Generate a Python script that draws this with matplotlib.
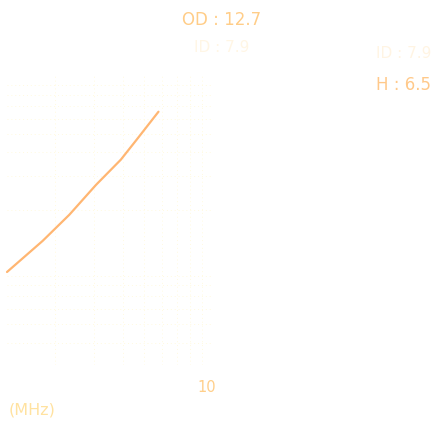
import numpy as np
import matplotlib
matplotlib.use('Agg')
import matplotlib.pyplot as plt
import matplotlib.transforms as mtransforms
from matplotlib.ticker import NullFormatter, FixedLocator

# impedance curve (faded)
freq_mhz = [1.225, 1.765, 2.32, 3.05, 3.93, 4.62, 5.78]
impedance = [9.4, 13.7, 18.8, 27.0, 36.6, 46.6, 65.4]

# core dimensions shown as labels
od_label = 'OD : 12.7'
id_label = 'ID : 7.9'
h_label = 'H : 6.5'
x_ticks = [10]
x_tick_labels = ['10']
x_unit = '(MHz)'

W, H = 438, 423
fig = plt.figure(figsize=(W / 100, H / 100), dpi=100)
fig.patch.set_facecolor('white')

# axes box in pixels: left 7, right 212, top 75, bottom 365
ax = fig.add_axes([7 / W, 1 - 365 / H, (212 - 7) / W, (365 - 75) / H])
ax.set_facecolor('none')
ax.set_xscale('log')
ax.set_yscale('log')
ax.set_xlim(1.225, 10)
ax.set_ylim(3.05, 102)

for s in ax.spines.values():
    s.set_visible(False)

ax.xaxis.set_minor_locator(FixedLocator([2, 3, 4, 5, 6, 7, 8, 9]))
ax.yaxis.set_minor_locator(FixedLocator([4, 5, 6, 7, 8, 9, 20, 30, 40, 50, 60, 70, 80, 90]))
ax.xaxis.set_minor_formatter(NullFormatter())
ax.yaxis.set_minor_formatter(NullFormatter())
ax.grid(True, which='both', color='#fffae0', linestyle=(0, (1, 3)), linewidth=0.7)

ax.set_xticks(x_ticks)
ax.set_xticklabels(x_tick_labels)
ax.set_yticks([])
ax.tick_params(axis='x', length=0, pad=11, labelsize=10.5, labelcolor='#ffcf8a')
ax.tick_params(axis='both', which='minor', length=0)
# the "10" sits a little left of its gridline
shift = mtransforms.ScaledTranslation(-5 / 100, 0, fig.dpi_scale_trans)
for lbl in ax.get_xticklabels():
    lbl.set_transform(lbl.get_transform() + shift)

ax.plot(freq_mhz, impedance, color='#ffb672', linewidth=1.6, clip_on=False,
        solid_capstyle='round', solid_joinstyle='round')

fig.text(222 / W, 1 - 20 / H, od_label, ha='center', va='center',
         fontsize=12, color='#ffcd88')
fig.text(222 / W, 1 - 48 / H, id_label, ha='center', va='center',
         fontsize=11, color='#fff0d4', alpha=0.6)
fig.text(404 / W, 1 - 53 / H, id_label, ha='center', va='center',
         fontsize=11, color='#ffeccc', alpha=0.55)
fig.text(404 / W, 1 - 85 / H, h_label, ha='center', va='center',
         fontsize=12, color='#ffc98a')
fig.text(9 / W, 1 - 410 / H, x_unit, ha='left', va='center',
         fontsize=11.5, color='#ffe2a0')

fig.savefig('out.png', dpi=100, facecolor='white')
